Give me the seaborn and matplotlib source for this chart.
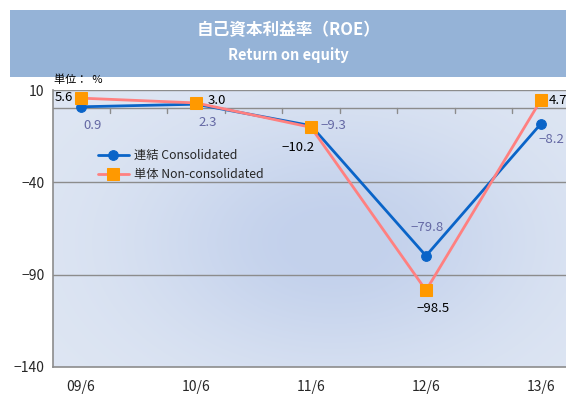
import numpy as np
import pandas as pd
import matplotlib
matplotlib.use("Agg")
import matplotlib.pyplot as plt
import seaborn as sns
from matplotlib.patches import Rectangle

sns.set_style("white")
plt.rcParams['font.family'] = ['Noto Sans CJK JP', 'DejaVu Sans']
plt.rcParams['axes.unicode_minus'] = False

categories = ["09/6", "10/6", "11/6", "12/6", "13/6"]
consolidated = [0.9, 2.3, -9.3, -79.8, -8.2]
non_consolidated = [5.6, 3.0, -10.2, -98.5, 4.7]
cons_label = "連結 Consolidated"
noncons_label = "単体 Non-consolidated"
yticks = [10, -40, -90, -140]

df_c = pd.DataFrame({"x": range(len(categories)), "y": consolidated})
df_n = pd.DataFrame({"x": range(len(categories)), "y": non_consolidated})

fig = plt.figure(figsize=(5.66, 4.0), dpi=100)
fig.patch.set_facecolor("white")

# title banner
fig.patches.append(Rectangle((10/566, 1-77/400), 1-10/566, 67/400,
                             transform=fig.transFigure, facecolor="#95b3d7",
                             edgecolor="none", zorder=0))
fig.text(0.51, 1-30/400, "自己資本利益率（ROE）", color="white", fontsize=12,
         fontweight="bold", ha="center", va="center")
fig.text(0.51, 1-55/400, "Return on equity", color="white", fontsize=10.5,
         fontweight="bold", ha="center", va="center")
fig.text(54/566, 1-80/400, "単位：  %", fontsize=8, ha="left", va="center", color="black")

ax = fig.add_axes([53/566, 1-367/400, 1-53/566, (367-90)/400])

xlim = (-0.243, 4.217)
ylim = (-140, 10)

# background gradient
H, W = 200, 300
yy, xx = np.mgrid[0:1:H*1j, 0:1:W*1j]
light = np.array([0.875, 0.905, 0.955])
dark = np.array([0.765, 0.820, 0.925])
w = np.exp(-(((xx-0.55)/0.38)**2 + ((yy-0.55)/0.45)**2))
w = np.clip(w*1.05, 0, 1)
img = light[None, None, :]*(1-w[..., None]) + dark[None, None, :]*w[..., None]
ax.imshow(img, extent=[xlim[0], xlim[1], ylim[0], ylim[1]], aspect="auto", zorder=0)

# gridlines / axis lines
for g in [-40, -90]:
    ax.axhline(g, color="#8c8c8c", lw=1.0, zorder=1)
ax.axhline(10, color="#8c8c8c", lw=1.0, zorder=1)
ax.axhline(0, color="#8c8c8c", lw=1.0, zorder=1)
for t in np.arange(0.25, 4.3, 0.5):
    ax.plot([t, t], [0, -2.2], color="#8c8c8c", lw=1.0, zorder=1, clip_on=True)

sns.lineplot(data=df_c, x="x", y="y", ax=ax, color="#0a64c8", lw=2.0,
             marker="o", markersize=7, markerfacecolor="#0a64c8",
             markeredgecolor="#0a64c8", label=cons_label, zorder=3)
sns.lineplot(data=df_n, x="x", y="y", ax=ax, color="#ff8080", lw=2.0,
             marker="s", markersize=8, markerfacecolor="#ff9900",
             markeredgecolor="#ff9900", label=noncons_label, zorder=4)

# data labels
lab_c = "#6468a4"
c_off = [(12, -19, "center"), (12, -18, "center"), (10, 0, "left"),
         (1, 28, "center"), (10, -16, "center")]
n_off = [(-8, 1, "right"), (12, 2, "left"), (-13, -20, "center"),
         (7, -18, "center"), (8, -1, "left")]
for i, v in enumerate(consolidated):
    dx, dy, ha = c_off[i]
    ax.annotate(f"{v:.1f}".replace("-", "−"), (i, v), xytext=(dx, dy),
                textcoords="offset pixels", ha=ha, va="center",
                fontsize=9.5, color=lab_c, zorder=5)
for i, v in enumerate(non_consolidated):
    dx, dy, ha = n_off[i]
    ax.annotate(f"{v:.1f}".replace("-", "−"), (i, v), xytext=(dx, dy),
                textcoords="offset pixels", ha=ha, va="center",
                fontsize=9.5, color="black", zorder=5)

ax.set_xlim(*xlim)
ax.set_ylim(*ylim)
ax.set_xticks(range(len(categories)))
ax.set_xticklabels(categories, fontsize=10)
ax.set_yticks(yticks)
ax.set_yticklabels([str(t).replace("-", "−") for t in yticks], fontsize=10)
ax.tick_params(axis="x", length=0, pad=9)
ax.tick_params(axis="y", length=4, width=1, color="#8c8c8c", direction="out", pad=2)
ax.set_xlabel("")
ax.set_ylabel("")
for s in ["top", "right"]:
    ax.spines[s].set_visible(False)
for s in ["left", "bottom"]:
    ax.spines[s].set_color("#8c8c8c")
    ax.spines[s].set_linewidth(1.2)

leg = ax.legend(loc="upper left", bbox_to_anchor=(40/517, 1-(144-90)/277),
                frameon=False, fontsize=8.8, handlelength=2.6, handletextpad=0.4,
                labelspacing=0.5, borderaxespad=0)

fig.savefig("out.png", dpi=100)
